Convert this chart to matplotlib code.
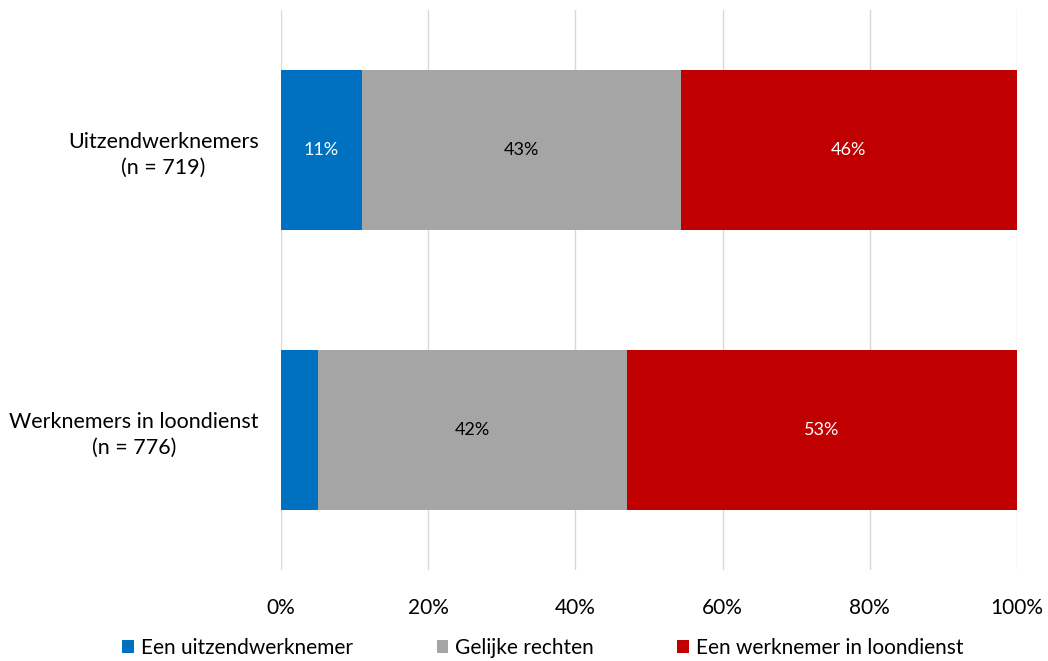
import matplotlib.pyplot as plt
import numpy as np

plt.rcParams['font.family'] = ['Lato', 'DejaVu Sans']

groups = ["Uitzendwerknemers\n(n = 719)", "Werknemers in loondienst\n(n = 776)"]
series = ["Een uitzendwerknemer", "Gelijke rechten", "Een werknemer in loondienst"]
values = [
    [11.0, 5.0],    # Een uitzendwerknemer
    [43.3, 42.0],   # Gelijke rechten
    [45.7, 53.0],   # Een werknemer in loondienst
]
labels = [
    ["11%", ""],
    ["43%", "42%"],
    ["46%", "53%"],
]
colors = ["#0070C0", "#A5A5A5", "#C00000"]
text_colors = ["white", "black", "white"]

fig = plt.figure(figsize=(10.48, 6.61), dpi=100)
ax = fig.add_axes([281 / 1048, 91 / 661, 736 / 1048, 560 / 661])

y = np.arange(len(groups))
left = np.zeros(len(groups))
for vals, lab, col, tcol, name in zip(values, labels, colors, text_colors, series):
    bars = ax.barh(y, vals, left=left, height=0.57, color=col, label=name, zorder=3)
    for b, t in zip(bars, lab):
        if t:
            ax.text(b.get_x() + b.get_width() / 2, b.get_y() + b.get_height() / 2, t,
                    ha="center", va="center", color=tcol, fontsize=13, zorder=4)
    left += np.array(vals)

ax.set_xlim(0, 100)
ax.set_ylim(1.5, -0.5)
ax.set_xticks(np.arange(0, 101, 20))
ax.set_xticklabels([f"{v}%" for v in range(0, 101, 20)], fontsize=15)
ax.set_yticks(y)
ax.set_yticklabels(groups, fontsize=15.5, linespacing=1.35)
for lbl in ax.get_yticklabels():
    lbl.set_multialignment("center")
ax.tick_params(axis="y", length=0, pad=16)
ax.tick_params(axis="x", length=0, pad=20)
ax.grid(axis="x", color="#D9D9D9", linewidth=1, zorder=0)
for s in ax.spines.values():
    s.set_visible(False)

fig.legend(*ax.get_legend_handles_labels(), loc="center", bbox_to_anchor=(543 / 1048, 1 - 648 / 661),
           ncol=3, frameon=False, fontsize=15, handlelength=0.55, handleheight=0.55,
           handletextpad=0.35, columnspacing=4.0, borderpad=0)

fig.savefig("out.png", dpi=100)
